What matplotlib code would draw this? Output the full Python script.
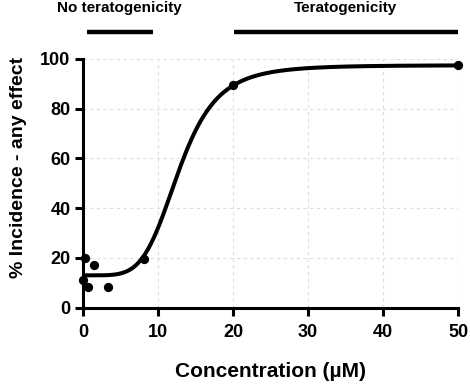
import numpy as np
import matplotlib.pyplot as plt

plt.rcParams['font.family'] = ['Liberation Sans', 'DejaVu Sans']
plt.rcParams['font.weight'] = 'bold'

# measured incidence points
conc = [0.05, 0.3, 0.6, 1.4, 3.3, 8.1, 20, 50]
incidence = [11.2, 20, 8.3, 17, 8.3, 19.7, 89.5, 97.7]

# Hill fit parameters
bottom = 13.0
top = 97.5
ec50 = 12.8
hill = 5.0

# top annotation bars
bar_labels = ['No teratogenicity', 'Teratogenicity']
bar_starts = [0.5, 20.1]
bar_ends = [9.3, 50]

xticks = [0, 10, 20, 30, 40, 50]
yticks = [0, 20, 40, 60, 80, 100]

fig = plt.figure(figsize=(4.7, 3.85), dpi=100)
ax = fig.add_axes([0.1766, 0.2008, 0.7979, 0.6460])

xs = np.linspace(0.01, 50, 400)
ys = bottom + (top - bottom) / (1 + (ec50 / xs) ** hill)
ax.plot(xs, ys, color='black', lw=2.9, zorder=3)
ax.scatter(conc, incidence, s=32, color='black', zorder=4, clip_on=False)

ax.set_xlim(0, 50)
ax.set_ylim(0, 100)
ax.set_xticks(xticks)
ax.set_yticks(yticks)
ax.grid(True, color='#dedede', linestyle=(0, (3, 3)), lw=0.8)
ax.set_axisbelow(True)

for s in ['top', 'right']:
    ax.spines[s].set_visible(False)
for s in ['left', 'bottom']:
    ax.spines[s].set_linewidth(2.2)
ax.tick_params(width=2.2, length=6, labelsize=13)
ax.tick_params(axis='x', pad=6)
ax.tick_params(axis='y', pad=3)
for lab in ax.get_xticklabels() + ax.get_yticklabels():
    lab.set_fontweight('bold')

ax.set_xlabel('Concentration (µM)', fontsize=15, fontweight='bold')
ax.set_ylabel('% Incidence - any effect', fontsize=14, fontweight='bold')
ax.xaxis.set_label_coords(0.5, -0.218)
ax.yaxis.set_label_coords(-0.150, 0.562)

for lab, x0, x1 in zip(bar_labels, bar_starts, bar_ends):
    ax.plot([x0, x1], [111, 111], color='black', lw=3.2, clip_on=False,
            solid_capstyle='butt')
    ax.text((x0 + x1) / 2, 120.5, lab, ha='center', va='center',
            fontsize=11, fontweight='bold', clip_on=False)

fig.savefig('out.png', dpi=100)
